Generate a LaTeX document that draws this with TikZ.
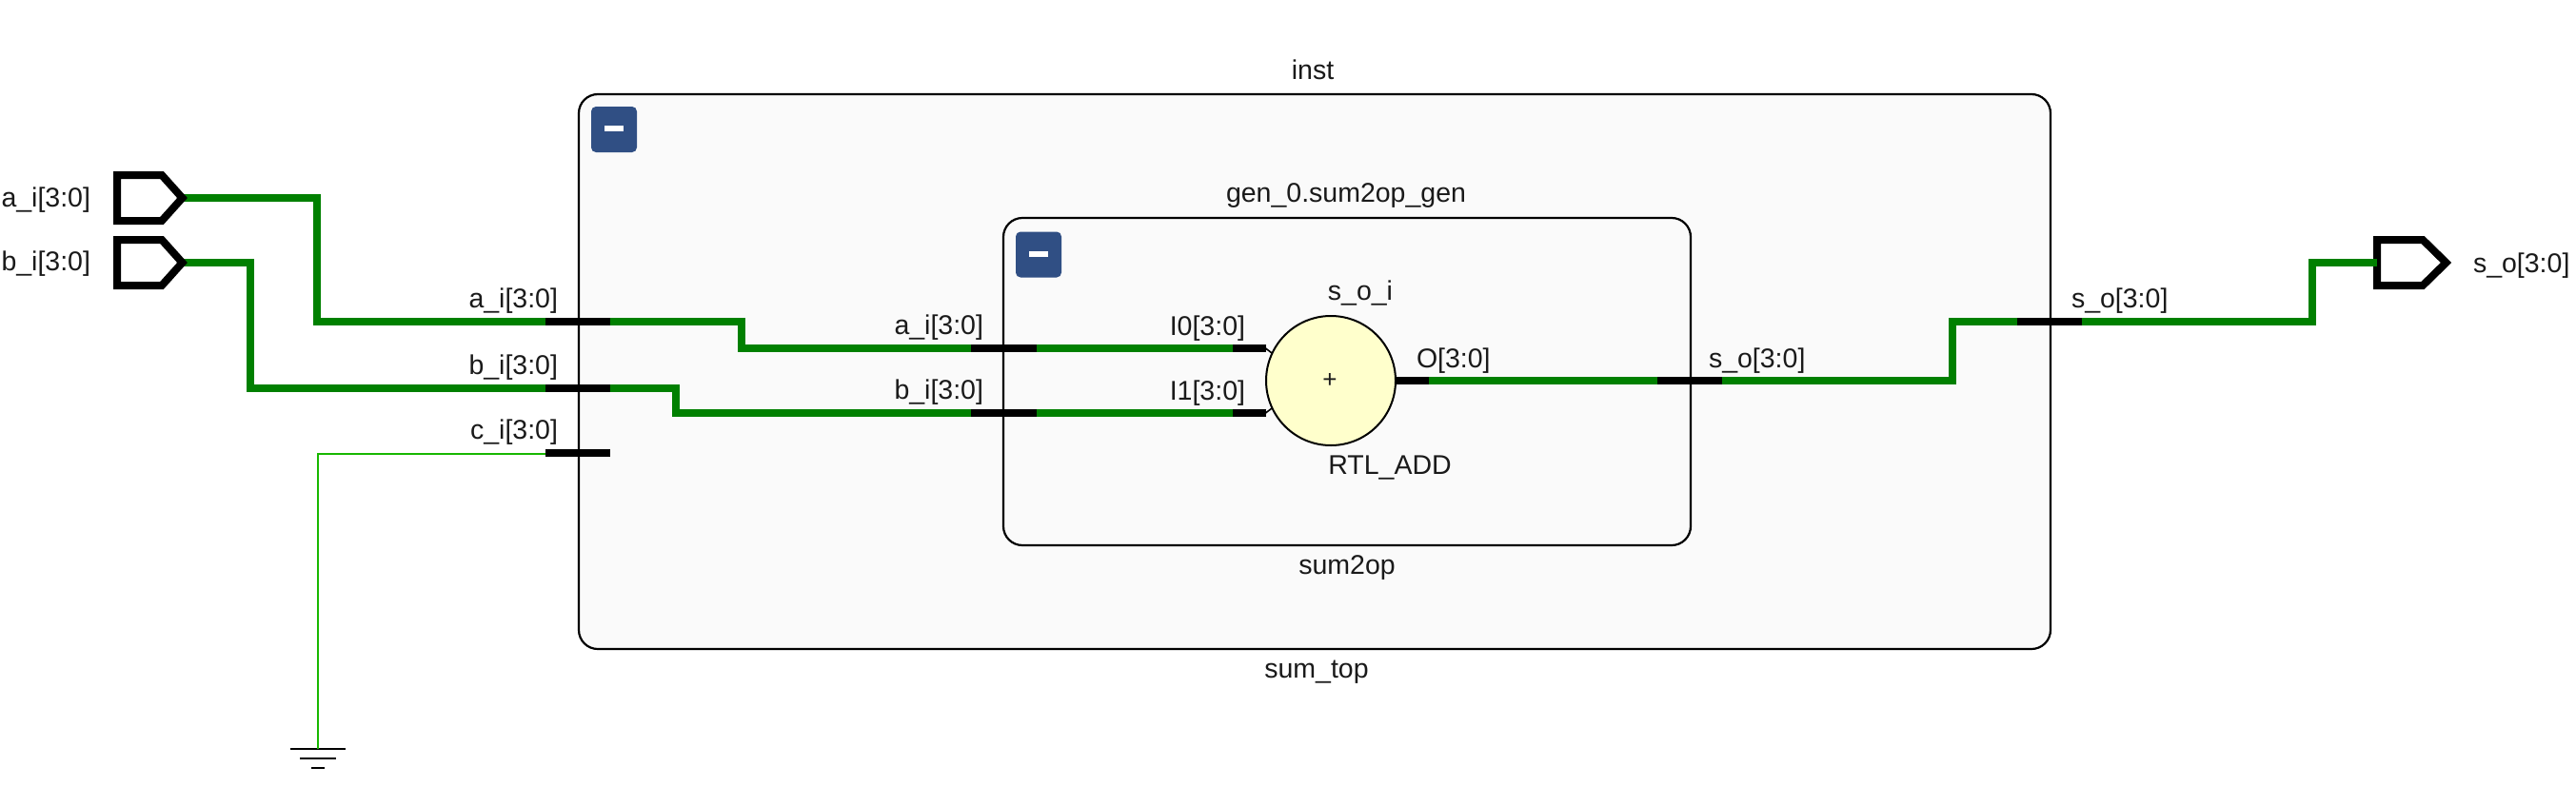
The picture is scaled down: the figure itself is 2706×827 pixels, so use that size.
\documentclass[tikz,border=0pt]{standalone}
\usepackage{fontspec}
\setmainfont{Liberation Sans}
\definecolor{wirebus}{HTML}{008000}
\definecolor{wirethin}{HTML}{18B800}
\definecolor{boxfill}{HTML}{FAFAFA}
\definecolor{btnblue}{HTML}{304F84}
\definecolor{addfill}{HTML}{FFFFCC}
\definecolor{labelink}{HTML}{1A1A1A}
\tikzset{
  x=1pt,y=-1pt,
  every node/.style={inner sep=0pt,outer sep=0pt},
  lbl/.style={font=\fontsize{28.5}{32}\selectfont,text=labelink,text height=20pt,text depth=6pt},
  cellbox/.style={draw=black,line width=2.2pt,fill=boxfill,rounded corners=20pt},
  btn/.style={fill=btnblue,rounded corners=5pt,minimum width=48pt,minimum height=48pt},
  btnbar/.style={fill=white,minimum width=20pt,minimum height=6pt},
  pin/.style={fill=black,minimum height=8pt},
  portshape/.style={draw=black,fill=white,line width=8pt,line join=miter,miter limit=10},
  bus/.style={draw=wirebus,line width=8pt,line join=miter},
  thinwire/.style={draw=wirethin,line width=2pt},
  gbar/.style={draw=black,line width=2pt},
  stub/.style={draw=black,line width=1.6pt}
}
\begin{document}
\begin{tikzpicture}
\useasboundingbox (0,0) rectangle (2706,827);
\fill[white] (0,0) rectangle (2706,827);
% cells
\node[cellbox,minimum width=1546pt,minimum height=583pt] (top) at (1381,390.5) {};
\node[cellbox,minimum width=722pt,minimum height=344pt] (sub) at (1415,401) {};
\node[btn] (btna) at (645,136) {};
\node[btnbar] (bara) at (645,135) {};
\node[btn] (btnb) at (1091,267.5) {};
\node[btnbar] (barb) at (1091,267) {};
% adder
\node[circle,draw=black,line width=2pt,fill=addfill,minimum size=136pt] (add) at (1398,400) {};
\node[font=\fontsize{26}{30}\selectfont,text=labelink] (plus) at (1397,400) {+};
% ports
\draw[portshape] (2497,252) -- (2545,252) -- (2569.5,276) -- (2545,300) -- (2497,300) -- cycle;
\coordinate (ina) at (190,208);
\coordinate (inb) at (190,276);
\coordinate (outs) at (2497,276);
% pins
\node[pin,minimum width=68pt] (pa) at (607,338) {};
\node[pin,minimum width=68pt] (pb) at (607,408) {};
\node[pin,minimum width=68pt] (pc) at (607,476) {};
\node[pin,minimum width=69pt] (sa) at (1054.5,366) {};
\node[pin,minimum width=69pt] (sb) at (1054.5,434) {};
\node[pin,minimum width=34.5pt] (i0) at (1312.25,366) {};
\node[pin,minimum width=34.5pt] (i1) at (1312.25,434) {};
\node[pin,minimum width=35pt] (o0) at (1483.5,400) {};
\node[pin,minimum width=68pt] (so) at (1775,400) {};
\node[pin,minimum width=68pt] (to) at (2153,338) {};
% ground
\coordinate (gnd) at (334,787);
\draw[gbar] (305,787) -- (363,787);
\draw[gbar] (315,797) -- (353,797);
\draw[gbar] (327,807) -- (341,807);
% wires
\draw[bus] (ina) -- (333,208) -- (333,338) -- (pa.west);
\draw[bus] (inb) -- (263,276) -- (263,408) -- (pb.west);
\draw[bus] (pa.east) -- (779,338) -- (779,366) -- (sa.west);
\draw[bus] (pb.east) -- (710,408) -- (710,434) -- (sb.west);
\draw[bus] (sa.east) -- (i0.west);
\draw[bus] (sb.east) -- (i1.west);
\draw[bus] (o0.east) -- (so.west);
\draw[bus] (so.east) -- (2051,400) -- (2051,338) -- (to.west);
\draw[bus] (to.east) -- (2429,338) -- (2429,276) -- (outs);
\draw[thinwire] ([yshift=-1pt]pc.west) -- (334,477) -- (gnd);
\draw[stub] (i0.east) -- (add.155);
\draw[stub] (i1.east) -- (add.205);
% input ports over their wires
\draw[portshape] (123,184) -- (170,184) -- (191.5,208) -- (170,232) -- (123,232) -- cycle;
\draw[portshape] (123,252) -- (170,252) -- (191.5,276) -- (170,300) -- (123,300) -- cycle;
% labels
\node[lbl,anchor=east] (l1) at (95,210) {a\_i[3:0]};
\node[lbl,anchor=east] (l2) at (95,277) {b\_i[3:0]};
\node[lbl,anchor=east] (l3) at (586,316) {a\_i[3:0]};
\node[lbl,anchor=east] (l4) at (586,386) {b\_i[3:0]};
\node[lbl,anchor=east] (l5) at (586,454) {c\_i[3:0]};
\node[lbl,anchor=east] (l6) at (1033,344) {a\_i[3:0]};
\node[lbl,anchor=east] (l7) at (1033,412) {b\_i[3:0]};
\node[lbl,anchor=east] (l8) at (1308,345) {I0[3:0]};
\node[lbl,anchor=east] (l9) at (1308,413) {I1[3:0]};
\node[lbl,anchor=west] (l10) at (1488,379) {O[3:0]};
\node[lbl,anchor=west] (l11) at (1795,379) {s\_o[3:0]};
\node[lbl,anchor=west] (l12) at (2176,316) {s\_o[3:0]};
\node[lbl,anchor=west] (l13) at (2598,279) {s\_o[3:0]};
\node[lbl] (l14) at (1379,76) {inst};
\node[lbl] (l15) at (1414,205) {gen\_0.sum2op\_gen};
\node[lbl] (l16) at (1415,596) {sum2op};
\node[lbl] (l17) at (1383,705) {sum\_top};
\node[lbl] (l18) at (1429,308) {s\_o\_i};
\node[lbl] (l19) at (1460,491) {RTL\_ADD};
\end{tikzpicture}
\end{document}
